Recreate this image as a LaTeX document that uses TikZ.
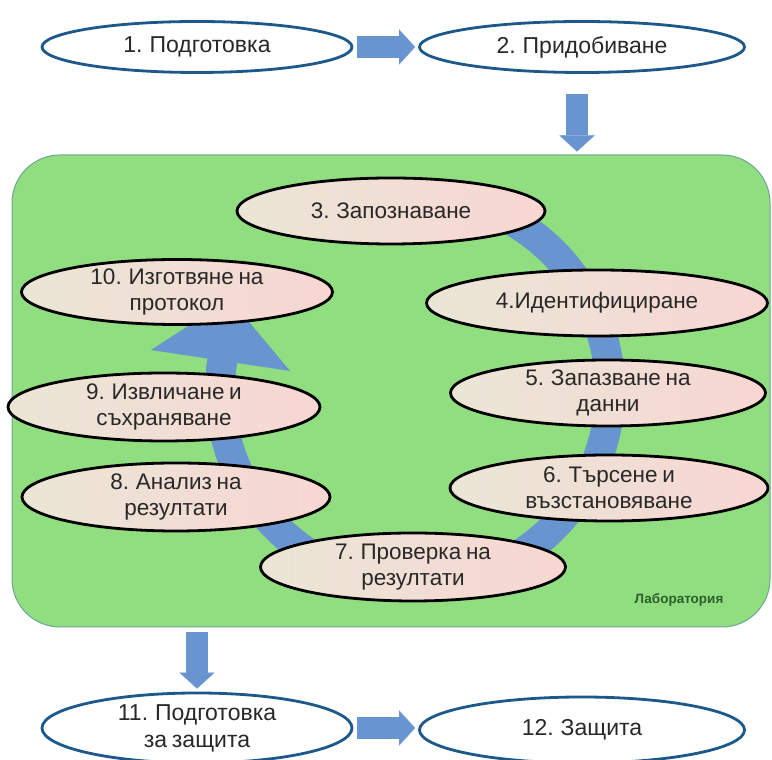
\documentclass[tikz,border=0pt]{standalone}
\usepackage{fontspec}
\setmainfont{Liberation Sans}[WordSpace=0.75]
\usetikzlibrary{arrows.meta,shapes.geometric}
\definecolor{labgreen}{RGB}{145,222,128}
\definecolor{labedge}{RGB}{110,165,150}
\definecolor{arrblue}{RGB}{104,148,208}
\definecolor{outblue}{RGB}{28,88,138}
\definecolor{txt}{RGB}{40,40,40}
\definecolor{elleft}{RGB}{234,230,214}
\definecolor{elright}{RGB}{248,214,210}
\definecolor{labtxt}{RGB}{45,95,45}
\begin{document}
\begin{tikzpicture}[x=1pt,y=1pt,
  outell/.style n args={2}{ellipse, draw=outblue, line width=2.8pt, fill=white,
    minimum width=#1, minimum height=#2, inner sep=0pt},
  inell/.style n args={2}{ellipse, draw=black, line width=2.8pt,
    left color=elleft, right color=elright,
    minimum width=#1, minimum height=#2, inner sep=0pt},
  outtxt/.style={text=txt, align=center, font=\fontsize{23}{27}\selectfont},
  intxt/.style={text=txt, align=center, font=\fontsize{22.5}{26}\selectfont},
  barrow/.style={draw=arrblue, line width=22pt,
    -{Triangle[width=35pt,length=16pt,line width=0.01pt,fill=arrblue]}},
]
\useasboundingbox (0,0) rectangle (772,760);

% laboratory box
\node[draw=labedge, fill=labgreen, rounded corners=48pt, line width=1pt,
      minimum width=758, minimum height=472, inner sep=0pt] (lab) at (391,369) {};
\node[text=labtxt, font=\bfseries\fontsize{13.5}{15}\selectfont] (lablbl) at (679,160) {Лаборатория};

% circular arrow
\coordinate (cc) at (415,370);
\draw[arrblue, line width=30pt] (cc) ++(100:195) arc[start angle=100, end angle=-190, radius=195];
\fill[arrblue] (151,410) -- (290,389) -- (230,461) -- cycle;

% outer ellipses
\node[outell={310}{51}] (e1) at (197,713) {};
\node[outtxt] at (e1) {1. Подготовка};
\node[outell={325}{51}] (e2) at (582,713) {};
\node[outtxt] at (e2) {2. Придобиване};
\node[outell={310}{70}] (e11) at (197,32) {};
\node[outtxt] at (e11) {11. Подготовка\\за защита};
\node[outell={325}{66}] (e12) at (582,30) {};
\node[outtxt] at (e12) {12. Защита};

% inner ellipses
\node[inell={308}{66}] (e3) at (391,549) {};
\node[intxt] at (e3) {3. Запознаване};
\node[inell={341}{66}] (e4) at (597,457) {};
\node[intxt] at (e4) {4.Идентифициране};
\node[inell={315}{66}] (e5) at (608,367) {};
\node[intxt] at (e5) {5. Запазване на\\данни};
\node[inell={318}{66}] (e6) at (609,272) {};
\node[intxt] at (e6) {6. Търсене и\\възстановяване};
\node[inell={305}{68}] (e7) at (413,193) {};
\node[intxt] at (e7) {7. Проверка на\\резултати};
\node[inell={308}{68}] (e8) at (176,263) {};
\node[intxt] at (e8) {8. Анализ на\\резултати};
\node[inell={312}{68}] (e9) at (164,353) {};
\node[intxt] at (e9) {9. Извличане и\\съхраняване};
\node[inell={311}{65}] (e10) at (177,468) {};
\node[intxt] at (e10) {10. Изготвяне на\\протокол};

% block arrows
\draw[barrow, shorten <=4pt, shorten >=3pt] (e1.east) -- (e2.west);
\draw[barrow, shorten >=3pt] ([shift={(-5,-20)}]e2.south) -- ([xshift=-5pt]e2.south |- lab.north);
\draw[barrow, shorten <=5pt, shorten >=3pt] (lab.south -| e11) -- (e11.north);
\draw[barrow, shorten <=4pt, shorten >=3pt] (e11.east) -- (e11.east -| e12.west);
\end{tikzpicture}
\end{document}
